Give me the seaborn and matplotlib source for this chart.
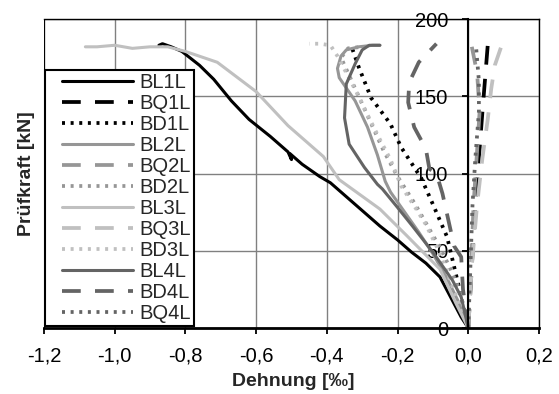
import numpy as np
import pandas as pd
import matplotlib
matplotlib.use("Agg")
import matplotlib.pyplot as plt
from matplotlib.lines import Line2D
from matplotlib.legend_handler import HandlerLine2D
from matplotlib.ticker import FixedLocator, FuncFormatter
import seaborn as sns

# --- measured strain [‰] / test force [kN] curves ---------------------------
BL1L_x = [0.0, -0.02, -0.05, -0.08, -0.12, -0.16, -0.20, -0.25, -0.30, -0.35, -0.39,
          -0.42, -0.47, -0.505, -0.50, -0.51, -0.56, -0.62, -0.67, -0.72, -0.76,
          -0.81, -0.84, -0.865, -0.875]
BL1L_y = [0, 7, 20, 33, 42, 49, 57, 66, 76, 86, 94,
          98, 106, 113, 109, 114, 124, 135, 147, 161, 170,
          179, 182, 184, 183]

BQ1L_x = [0.0, 0.01, 0.02, 0.03, 0.04, 0.047, 0.055]
BQ1L_y = [0, 40, 80, 110, 140, 160, 183]

BD1L_x = [0.0, -0.03, -0.06, -0.10, -0.133, -0.19, -0.22, -0.275, -0.31, -0.33]
BD1L_y = [0, 30, 59, 80, 97, 117, 132, 149, 169, 182]

BL2L_x = [0.0, -0.03, -0.06, -0.10, -0.14, -0.18, -0.22, -0.235, -0.257, -0.285,
          -0.32, -0.365, -0.37, -0.36, -0.345, -0.31, -0.27, -0.25]
BL2L_y = [0, 18, 32, 48, 62, 75, 88, 95, 112, 130,
          147, 162, 168, 176, 180, 182, 183, 183]

BQ2L_x = [0.0, 0.008, 0.015, 0.025, 0.032, 0.025, 0.01]
BQ2L_y = [0, 40, 80, 115, 140, 165, 182]

BD2L_x = [0.0, -0.025, -0.054, -0.08, -0.11, -0.15, -0.20, -0.24, -0.28, -0.31,
          -0.34, -0.36, -0.34, -0.30]
BD2L_y = [0, 25, 40, 52, 64, 80, 98, 115, 135, 150,
          165, 175, 181, 182]

BL3L_x = [0.0, -0.035, -0.08, -0.175, -0.25, -0.365, -0.41, -0.51, -0.60, -0.71,
          -0.80, -0.85, -0.90, -0.95, -1.00, -1.05, -1.083]
BL3L_y = [0, 16, 38, 60, 77, 96, 111, 131, 153, 172,
          179, 182, 182, 181, 183, 182, 182]

BQ3L_x = [0.0, 0.01, 0.025, 0.04, 0.055, 0.065, 0.075, 0.096]
BQ3L_y = [0, 40, 80, 110, 135, 155, 170, 184]

BD3L_x = [0.0, -0.03, -0.06, -0.09, -0.12, -0.15, -0.19, -0.22, -0.25, -0.285,
          -0.31, -0.34, -0.37, -0.39, -0.42, -0.45]
BD3L_y = [0, 18, 36, 53, 67, 78, 92, 109, 122, 138,
          150, 163, 176, 183, 184, 184]

BL4L_x = [0.0, -0.02, -0.045, -0.10, -0.158, -0.20, -0.243, -0.257, -0.294, -0.337,
          -0.35, -0.345, -0.32, -0.30, -0.28, -0.25]
BL4L_y = [0, 20, 31, 49, 66, 78, 90, 93, 104, 119,
          136, 158, 171, 180, 183, 183]

BD4L_x = [0.0, -0.015, -0.02, -0.04, -0.073, -0.09, -0.11, -0.12, -0.153, -0.17,
          -0.167, -0.14, -0.09]
BD4L_y = [0, 25, 46, 53, 87, 100, 103, 116, 130, 146,
          159, 172, 184]

BQ4L_x = [0.0, 0.006, 0.012, 0.02, 0.03, 0.03, 0.022]
BQ4L_y = [0, 40, 80, 110, 140, 160, 182]

labels = ["BL1L", "BQ1L", "BD1L", "BL2L", "BQ2L", "BD2L",
          "BL3L", "BQ3L", "BD3L", "BL4L", "BD4L", "BQ4L"]
xs = [BL1L_x, BQ1L_x, BD1L_x, BL2L_x, BQ2L_x, BD2L_x,
      BL3L_x, BQ3L_x, BD3L_x, BL4L_x, BD4L_x, BQ4L_x]
ys = [BL1L_y, BQ1L_y, BD1L_y, BL2L_y, BQ2L_y, BD2L_y,
      BL3L_y, BQ3L_y, BD3L_y, BL4L_y, BD4L_y, BQ4L_y]

x_ticks = [-1.2, -1.0, -0.8, -0.6, -0.4, -0.2, 0.0, 0.2]
y_ticks = [0, 50, 100, 150, 200]

# --- styling ---------------------------------------------------------------
sns.set_style("white")
plt.rcParams["font.family"] = ["Liberation Sans", "DejaVu Sans"]
plt.rcParams["axes.unicode_minus"] = False

black, gray, light, dark = "#000000", "#969696", "#c0c0c0", "#646464"
solid = "-"
dashed = (0, (5, 3.8))
dotted = (0, (0.8, 1.5))
styles = [
    (black, solid), (black, dashed), (black, dotted),
    (gray, solid), (gray, dashed), (gray, dotted),
    (light, solid), (light, dashed), (light, dotted),
    (dark, solid), (dark, dashed), (dark, dotted),
]

fig = plt.figure(figsize=(5.59, 3.94), dpi=100)
ax = fig.add_axes([44 / 559, 1 - 328 / 394, 495 / 559, 309 / 394])

for lab, x, y, (col, ls) in zip(labels, xs, ys, styles):
    df = pd.DataFrame({"x": x, "y": y})
    lw = 2.2 if ls == solid else 2.7
    sns.lineplot(data=df, x="x", y="y", sort=False, estimator=None,
                 color=col, linestyle=ls, linewidth=lw, label=lab,
                 legend=False, ax=ax)

ax.set_xlim(-1.2, 0.2)
ax.set_ylim(0, 200)

ax.xaxis.set_major_locator(FixedLocator(x_ticks))
ax.yaxis.set_major_locator(FixedLocator(y_ticks))
ax.xaxis.set_major_formatter(FuncFormatter(lambda v, p: f"{v:.1f}".replace(".", ",").replace("-0,0", "0,0")))
ax.yaxis.set_major_formatter(FuncFormatter(lambda v, p: f"{v:.0f}"))

ax.grid(True, color="#808080", linewidth=1.0)
ax.set_axisbelow(True)

for s in ["top", "right"]:
    ax.spines[s].set_color("#000000")
    ax.spines[s].set_linewidth(1.0)
ax.spines["bottom"].set_color("#000000")
ax.spines["bottom"].set_linewidth(2.0)
ax.spines["left"].set_position(("data", 0))
ax.spines["left"].set_color("#000000")
ax.spines["left"].set_linewidth(1.5)
ax.axvline(-1.2, color="#000000", linewidth=1.5, zorder=3)

ax.tick_params(axis="x", direction="out", length=4.5, width=1.3, pad=8.5,
               labelsize=14.5, colors="#000000", bottom=True)
ax.tick_params(axis="y", direction="out", length=4.5, width=1.3, pad=10,
               labelsize=14.5, colors="#000000", left=True)

ax.set_xlabel("Dehnung [‰]", fontsize=14, fontweight="bold")
ax.set_ylabel("Prüfkraft [kN]", fontsize=14, fontweight="bold")
ax.xaxis.set_label_coords(0.503, -0.145)
ax.yaxis.set_label_coords(-0.018, 0.5)

leg = ax.legend(loc="lower left", bbox_to_anchor=(0.002, 0.006), borderaxespad=0,
                fontsize=14.5, labelspacing=0.1, handlelength=4.9, numpoints=2,
                handletextpad=-0.35, borderpad=0.15, fancybox=False,
                framealpha=1, edgecolor="#000000",
                handler_map={Line2D: HandlerLine2D(marker_pad=0.7, numpoints=2)})
leg.get_frame().set_linewidth(1.5)
leg.set_zorder(5)

fig.savefig("out.png", dpi=100)
